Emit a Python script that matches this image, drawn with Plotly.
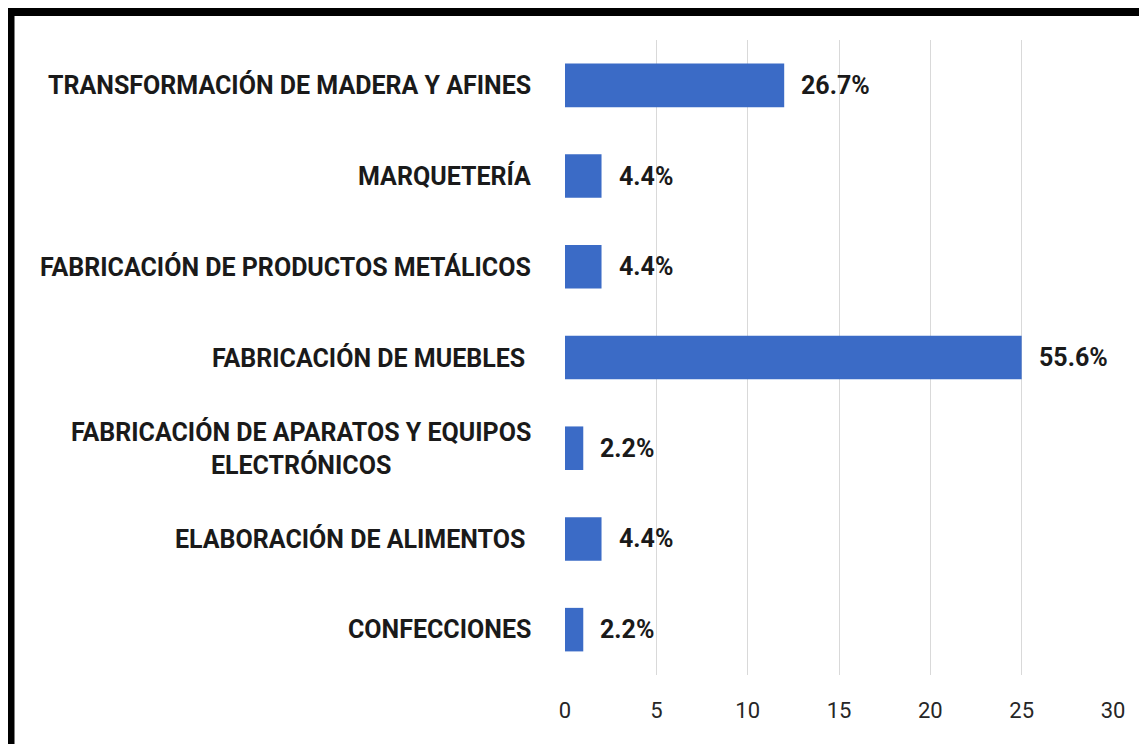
import plotly.graph_objects as go

categories = [
    "TRANSFORMACIÓN DE MADERA Y AFINES",
    "MARQUETERÍA",
    "FABRICACIÓN DE PRODUCTOS METÁLICOS",
    "FABRICACIÓN DE MUEBLES ",
    "FABRICACIÓN DE APARATOS Y EQUIPOS<br>ELECTRÓNICOS",
    "ELABORACIÓN DE ALIMENTOS ",
    "CONFECCIONES",
]
values = [12, 2, 2, 25, 1, 2, 1]
pct_labels = ["26.7%", "4.4%", "4.4%", "55.6%", "2.2%", "4.4%", "2.2%"]
x_ticks = [0, 5, 10, 15, 20, 25, 30]

FONT = "Roboto, Arial"
OFF = 8  # page body margin
W, H = 1147 - OFF, 744 - OFF
L, R, T, B = 565 - OFF, 34, 40 - OFF, 69
pw, ph = W - L - R, H - T - B

fig = go.Figure()
fig.add_trace(go.Bar(
    y=categories, x=values, orientation="h",
    width=0.48,
    marker=dict(color="#3B6BC6", line=dict(width=0)),
    hoverinfo="skip",
))

annotations = []
for c, v, p in zip(categories, values, pct_labels):
    trailing = c.endswith(" ")
    annotations.append(dict(
        x=0, y=c, xref="x", yref="y", text="<b>" + c.strip() + "</b>",
        showarrow=False, xanchor="right", yanchor="middle",
        xshift=-38 if trailing else -32,
        align="center", font=dict(family=FONT, size=25, color="#1a1a1a"),
    ))
    annotations.append(dict(
        x=v, y=c, xref="x", yref="y", text="<b>" + p + "</b>",
        showarrow=False, xanchor="left", yanchor="middle", xshift=15,
        font=dict(family=FONT, size=25, color="#1a1a1a"),
    ))

def px_x(px):
    return (px - OFF - L) / pw

def px_y(py):
    return (H - B - (py - OFF)) / ph

shapes = [
    dict(type="line", xref="paper", yref="paper",
         x0=px_x(3), x1=px_x(1160), y0=px_y(12), y1=px_y(12),
         line=dict(color="black", width=8)),
    dict(type="line", xref="paper", yref="paper",
         x0=px_x(10.5), x1=px_x(10.5), y0=px_y(8), y1=px_y(760),
         line=dict(color="black", width=8)),
]

fig.update_layout(
    width=W, height=H,
    margin=dict(l=L, r=R, t=T, b=B, pad=0),
    paper_bgcolor="white", plot_bgcolor="white",
    showlegend=False,
    annotations=annotations,
    shapes=shapes,
    xaxis=dict(
        range=[0, 30], tickvals=x_ticks, ticktext=[str(t) for t in x_ticks],
        showgrid=True, gridcolor="#d9d9d9", gridwidth=1,
        zeroline=False, showline=False, ticks="",
        tickfont=dict(family=FONT, size=22, color="#262626"),
        ticklabelstandoff=20,
        fixedrange=True,
    ),
    yaxis=dict(
        categoryorder="array", categoryarray=categories,
        autorange="reversed", showticklabels=False,
        showgrid=False, zeroline=False, showline=False, ticks="",
        fixedrange=True,
    ),
)

fig.write_html("out.html")
